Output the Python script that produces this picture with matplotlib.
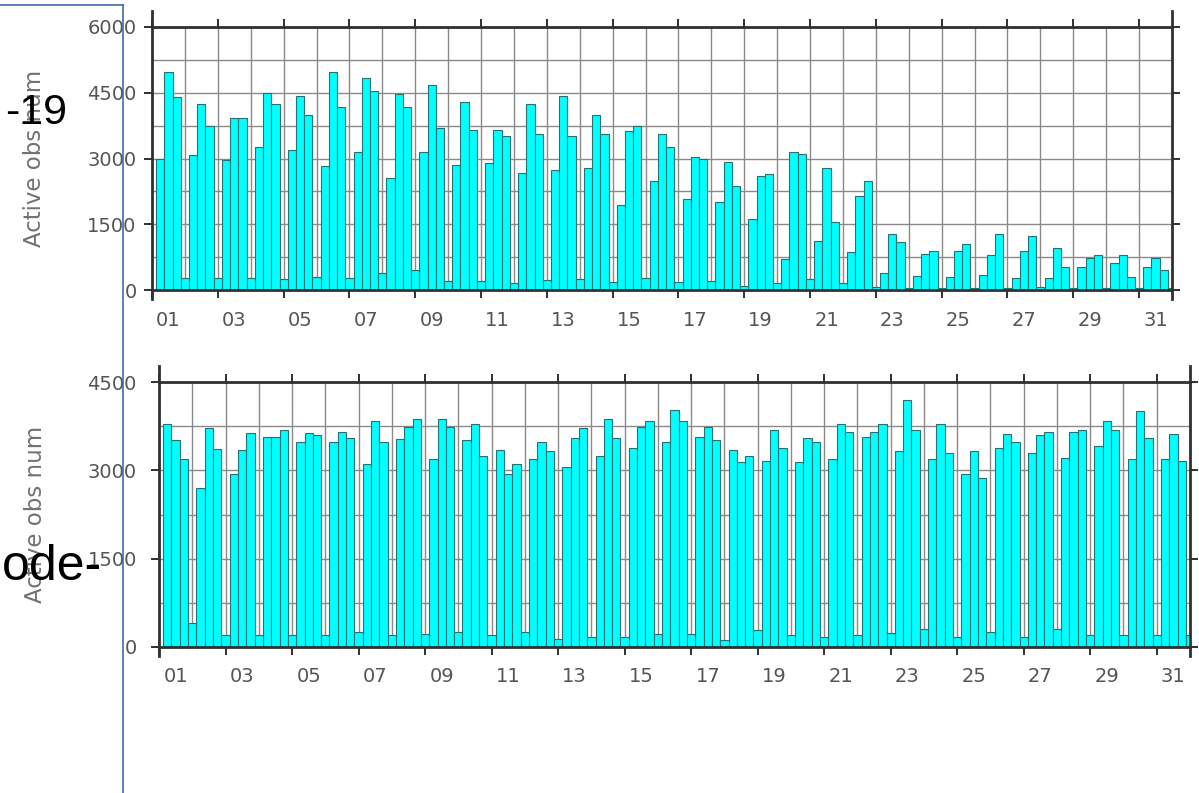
import numpy as np
import matplotlib
matplotlib.use("Agg")
import matplotlib.pyplot as plt
from matplotlib.lines import Line2D
from matplotlib.ticker import MultipleLocator, FixedLocator, NullFormatter

# Day-of-month labels (every second day is labelled)
days = [f"{d:02d}" for d in range(1, 32)]

# Upper panel: active observation counts, four analysis cycles per day
top_c1 = [3000, 3080, 2960, 3260, 3185, 2830, 3150, 2560, 3155, 2850, 2900, 2675, 2730, 2790, 1950, 2480,
          2065, 2000, 1625, 710, 1125, 865, 380, 320, 305, 345, 280, 280, 535, 610, 535]
top_c2 = [4970, 4240, 3935, 4485, 4430, 4970, 4840, 4480, 4675, 4300, 3645, 4240, 4430, 3995, 3630, 3570,
          3030, 2925, 2600, 3155, 2790, 2140, 1285, 820, 880, 800, 880, 955, 725, 800, 725]
top_c3 = [4410, 3745, 3935, 4240, 3990, 4165, 4550, 4180, 3690, 3645, 3515, 3570, 3515, 3550, 3745, 3260,
          2980, 2370, 2650, 3095, 1545, 2480, 1090, 880, 1045, 1285, 1240, 535, 800, 305, 460]
top_c4 = [270, 270, 270, 250, 300, 270, 380, 460, 205, 205, 150, 230, 250, 190, 270, 190,
          205, 100, 150, 250, 150, 75, 40, 40, 40, 40, 75, 40, 40, 40, 40]

# Lower panel
bot_c1 = [3780, 2705, 2940, 3565, 3480, 3480, 3100, 3540, 3200, 3520, 3340, 3200, 3055, 3240, 3385, 3480,
          3565, 3340, 3160, 3140, 3200, 3565, 3330, 3200, 2930, 3385, 3295, 3215, 3405, 3200, 3200]
bot_c2 = [3520, 3725, 3340, 3565, 3635, 3650, 3840, 3735, 3875, 3780, 2930, 3480, 3555, 3875, 3735, 4020,
          3735, 3140, 3690, 3555, 3790, 3650, 4200, 3780, 3330, 3610, 3595, 3650, 3840, 4005, 3610]
bot_c3 = [3200, 3370, 3635, 3690, 3605, 3550, 3480, 3875, 3735, 3240, 3100, 3330, 3725, 3555, 3840, 3840,
          3520, 3240, 3385, 3480, 3650, 3780, 3690, 3295, 2875, 3480, 3650, 3690, 3690, 3555, 3160]
bot_c4 = [400, 200, 200, 200, 200, 255, 200, 225, 255, 200, 255, 140, 170, 170, 215, 225,
          125, 285, 200, 170, 200, 240, 310, 170, 255, 170, 310, 200, 200, 200, 200]

YLABEL = "Active obs num"

W, H = 1199, 793
fig = plt.figure(figsize=(W / 100, H / 100), dpi=100)
fig.patch.set_facecolor("white")

ax_top = fig.add_axes([152 / W, 1 - 290 / H, (1172 - 152) / W, (290 - 27) / H])
ax_bot = fig.add_axes([159 / W, 1 - 647 / H, (1190 - 159) / W, (647 - 382) / H])

TICK_COLOR = "#555555"
SPINE_COLOR = "#303030"
GRID_COLOR = "#8a8a8a"
TICK_SIZE = 14


def draw_panel(ax, series, ymax, ypad, xpad, label_x):
    n = len(series[0])
    x0 = np.arange(n)
    for k, vals in enumerate(series):
        ax.bar(x0 + 0.25 * (k + 1), vals, width=0.25, color="#00ffff",
               edgecolor="#237373", linewidth=0.8, zorder=2)
    ax.set_xlim(0, n)
    ax.set_ylim(0, ymax)

    # x: marks every second day, grid every day
    ax.xaxis.set_major_locator(FixedLocator(np.arange(0, n, 2)))
    ax.xaxis.set_minor_locator(FixedLocator(np.arange(1, n + 1, 2)))
    ax.xaxis.set_major_formatter(NullFormatter())
    ax.tick_params(axis="x", which="major", direction="out", length=6, width=1.4,
                   color=SPINE_COLOR, top=True, bottom=True)
    ax.tick_params(axis="x", which="minor", length=0, top=False, bottom=False)

    # y: labelled every 1500, grid every 750
    ax.yaxis.set_major_locator(MultipleLocator(1500))
    ax.yaxis.set_minor_locator(MultipleLocator(750))
    ax.tick_params(axis="y", which="major", direction="out", length=6, width=1.4,
                   color=SPINE_COLOR, left=True, right=True, labelsize=TICK_SIZE,
                   labelcolor=TICK_COLOR, pad=ypad)
    ax.tick_params(axis="y", which="minor", length=0, left=False, right=False)

    ax.grid(axis="x", which="both", color=GRID_COLOR, linewidth=1.0, zorder=0)
    ax.grid(axis="y", which="both", color=GRID_COLOR, linewidth=1.0, zorder=0)
    ax.set_axisbelow(True)

    for side in ("left", "right", "top", "bottom"):
        ax.spines[side].set_color(SPINE_COLOR)
        ax.spines[side].set_linewidth(2.0)
    for side in ("left", "right"):
        ax.spines[side].set_bounds(-ymax * 0.035, ymax * 1.06)

    # day labels centred on the days
    sec = ax.secondary_xaxis("bottom")
    sec.set_xticks(np.arange(0.5, n, 2), days[::2])
    sec.tick_params(length=0, labelsize=TICK_SIZE, labelcolor=TICK_COLOR, pad=xpad)
    sec.spines["bottom"].set_visible(False)

    ax.set_ylabel(YLABEL, fontsize=16.5, color="#727272")
    ax.yaxis.set_label_coords(label_x, 0.5)


plt.rcParams["font.family"] = ["DejaVu Sans"]

draw_panel(ax_top, [top_c1, top_c2, top_c3, top_c4], 6000, ypad=5, xpad=15, label_x=(46 - 152) / 1020)
draw_panel(ax_bot, [bot_c1, bot_c2, bot_c3, bot_c4], 4500, ypad=10, xpad=14.5, label_x=(47 - 159) / 1031)

# Slide text fragments and text-box border drawn on top
fig.text(67 / W, 1 - 124 / H, "-19", ha="right", va="baseline", fontsize=31,
         family="Liberation Sans", color="black", zorder=10)
fig.text(102 / W, 1 - 580 / H, "ode-", ha="right", va="baseline", fontsize=36,
         family="Liberation Sans", color="black", zorder=10)

border_color = "#4468b0"
fig.add_artist(Line2D([123 / W, 123 / W], [0, 1 - 5 / H], transform=fig.transFigure,
                      color=border_color, linewidth=1.2, zorder=11))
fig.add_artist(Line2D([0, 123 / W], [1 - 5 / H, 1 - 5 / H], transform=fig.transFigure,
                      color=border_color, linewidth=1.2, zorder=11))

fig.savefig("out.png", dpi=100, facecolor="white")
